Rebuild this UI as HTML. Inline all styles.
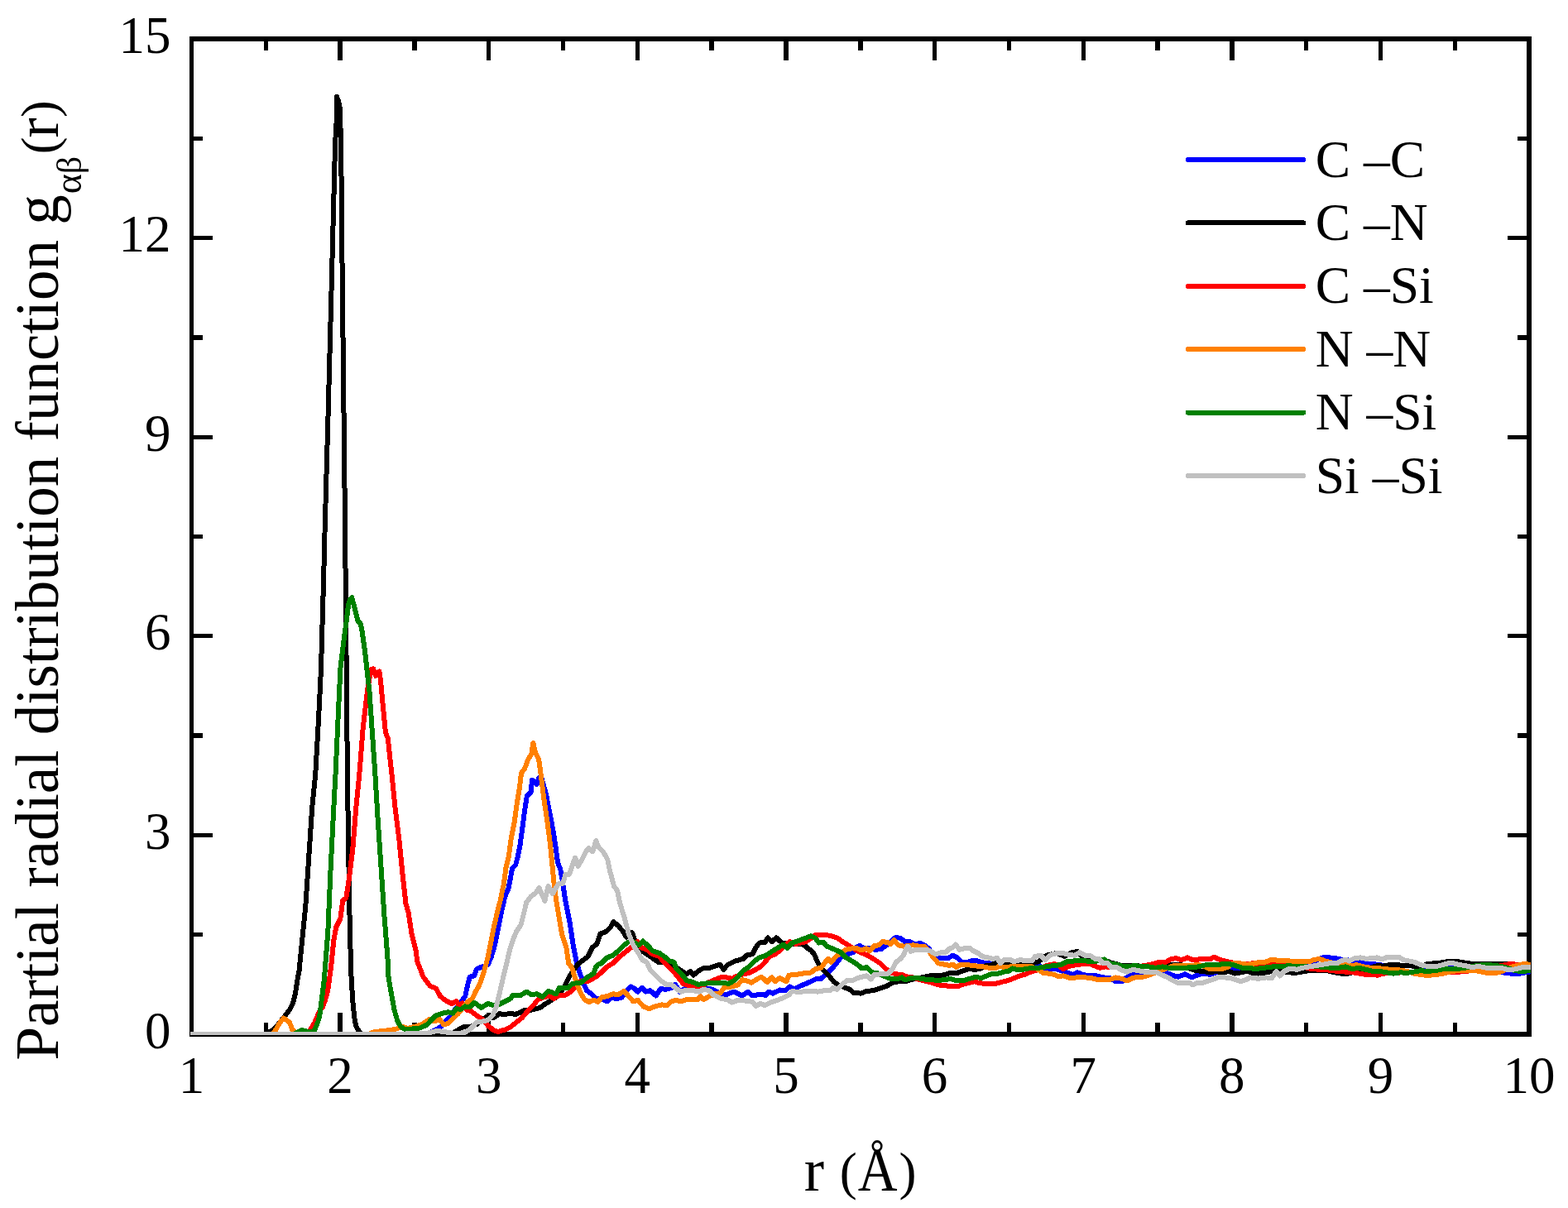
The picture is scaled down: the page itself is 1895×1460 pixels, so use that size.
<!DOCTYPE html>
<html lang="en"><head><meta charset="utf-8"><title>Partial radial distribution function</title>
<style>
html,body{margin:0;padding:0;background:#fff;}
body{width:1895px;height:1460px;overflow:hidden;}
svg{display:block;}
text{font-family:"Liberation Serif","Times New Roman",Times,serif;fill:#000;}
.tk{font-size:63.0px;}
.lg{font-size:63.5px;}
.tt{font-size:73.0px;}
.cv{fill:none;stroke-width:6.0;stroke-linejoin:round;stroke-linecap:butt;}
</style></head><body>
<svg width="1895" height="1460" viewBox="0 0 1895 1460">
<rect x="0" y="0" width="1895" height="1460" fill="#ffffff"/>
<defs><clipPath id="plot"><rect x="230" y="47" width="1620" height="1204"/></clipPath></defs>
<g stroke="#000" stroke-width="5.4" stroke-linecap="butt" fill="none" shape-rendering="crispEdges">
<path d="M321.3 1249.9v-13.8M321.3 47v13.8M411.1 1249.9v-25.8M411.1 47v25.8M500.9 1249.9v-13.8M500.9 47v13.8M590.7 1249.9v-25.8M590.7 47v25.8M680.5 1249.9v-13.8M680.5 47v13.8M770.3 1249.9v-25.8M770.3 47v25.8M860.1 1249.9v-13.8M860.1 47v13.8M949.9 1249.9v-25.8M949.9 47v25.8M1039.8 1249.9v-13.8M1039.8 47v13.8M1129.6 1249.9v-25.8M1129.6 47v25.8M1219.4 1249.9v-13.8M1219.4 47v13.8M1309.2 1249.9v-25.8M1309.2 47v25.8M1399 1249.9v-13.8M1399 47v13.8M1488.8 1249.9v-25.8M1488.8 47v25.8M1578.6 1249.9v-13.8M1578.6 47v13.8M1668.4 1249.9v-25.8M1668.4 47v25.8M1758.2 1249.9v-13.8M1758.2 47v13.8M231.5 1129.6h13.8M1848 1129.6h-13.8M231.5 1009.3h25.8M1848 1009.3h-25.8M231.5 889h13.8M1848 889h-13.8M231.5 768.7h25.8M1848 768.7h-25.8M231.5 648.5h13.8M1848 648.5h-13.8M231.5 528.2h25.8M1848 528.2h-25.8M231.5 407.9h13.8M1848 407.9h-13.8M231.5 287.6h25.8M1848 287.6h-25.8M231.5 167.3h13.8M1848 167.3h-13.8"/>
</g>
<rect x="231.5" y="47" width="1616.5" height="1202.9" fill="none" stroke="#000" stroke-width="5.6" shape-rendering="crispEdges"/>
<g clip-path="url(#plot)" shape-rendering="crispEdges">
<polyline class="cv" stroke="#0000ff" points="230,1250 515,1250 522,1247 528,1244 533.5,1240.5 537.6,1235 543.1,1229.5 550,1220 558.2,1209.6 562.3,1204.1 565.1,1190.4 567.8,1180.7 573.3,1179.4 576,1171.1 582.9,1168.4 589.8,1165.7 593.9,1156 598,1142.3 602.1,1121.7 606.2,1101.2 610.4,1083.3 614.5,1073.7 617.2,1060 619,1049.7 623.1,1045.6 625.9,1034.7 628.6,1020.9 631.4,1000.4 634.1,979.8 636.8,961.9 641.6,957.8 643,942.7 645.8,944.1 648.5,948.2 651.2,940 654,938.2 656.2,946.6 658.4,954 660.3,961.4 661.7,968.8 663.2,976.2 665.4,987.7 667.8,1000.4 671.2,1020.9 673.9,1041.5 677.3,1051.1 679.4,1062.1 683.1,1087.4 688.6,1114.9 692.7,1142.3 696.8,1162.9 700.9,1176.6 705,1187.6 709.1,1197.2 714.6,1201.3 720.1,1206.8 727,1207.5 733.8,1210.5 739.2,1205.4 744.7,1207.5 751.6,1205.4 757,1197.2 762.5,1192.4 766.7,1194.5 770.8,1198.6 776.3,1193.8 780.4,1198.6 785.9,1197.2 792.7,1203.4 798.2,1195.2 805.1,1195.8 811,1194 816,1189.7 821.5,1198.6 827,1195.2 840,1196 857.2,1194.5 864.1,1197.2 870.9,1201.3 877.8,1202 887.4,1198.6 897,1203.4 903.9,1198.6 909.4,1203.4 917.6,1202 925.8,1202.7 928.6,1198.6 934,1200.6 942.3,1196.5 949.1,1197.2 954.6,1192.4 960.1,1195.2 967,1191.7 973.8,1189 980,1186.2 985.5,1183.5 992.3,1182.8 997.8,1178 1003.3,1172.5 1007.4,1168.4 1012.9,1161.5 1017,1156 1023.9,1153.3 1030.8,1151.2 1034.9,1145.1 1039,1143 1044.5,1146.4 1051.4,1146.4 1058.2,1147.8 1065.1,1147.1 1069.2,1143.7 1074.7,1141 1078.8,1135.5 1082.9,1132.7 1088.4,1134.1 1093.9,1138.2 1099.4,1138.2 1106.2,1141.6 1111.7,1139.6 1117.2,1142.3 1122.7,1146.4 1126.8,1153.3 1132.3,1157.4 1139.2,1158.1 1146,1158.1 1151.5,1154.7 1157,1157.4 1162.5,1162.9 1169.4,1162.9 1174.8,1160.9 1181.7,1161.5 1188.6,1163.6 1195.4,1164.3 1203.7,1165.7 1213.3,1167 1227,1167 1240,1167 1246.9,1166.3 1253.7,1165.7 1260.6,1169.8 1267.4,1171.8 1275.7,1171.1 1282.5,1173.2 1289.4,1175.3 1296.3,1178 1302.4,1175.3 1308.6,1178 1316.8,1179.4 1325.1,1179.4 1333.3,1181.4 1341.5,1182.1 1348.4,1186.2 1356.6,1186.2 1360.7,1182.1 1369,1178 1377.2,1178 1385.4,1176.6 1393.7,1175.3 1401.9,1174.6 1410.1,1175.9 1417,1178.7 1423.9,1180.7 1432.1,1177.3 1440.3,1181.4 1448.6,1178 1455.4,1176.6 1462.3,1178 1470.5,1175.3 1477.4,1173.9 1484.2,1171.1 1492.5,1169.8 1500,1171.1 1512,1168.5 1525,1166.5 1538.4,1165 1552.1,1165 1570,1165.5 1585.1,1164.3 1592,1160 1598.8,1157.4 1607,1157.4 1613.9,1158.1 1620.7,1159.5 1630,1160.5 1642.7,1162.9 1650.9,1164.3 1659.2,1165 1664.7,1165.7 1673,1167 1683.9,1169.8 1694,1168 1705.8,1165.7 1720,1168 1733,1169.5 1747,1169.8 1760,1169.8 1775,1171 1790,1172 1805,1173 1820.3,1176 1833.3,1177.5 1840,1176 1852,1174"/>
<polyline class="cv" stroke="#000000" points="230,1250 318,1250 325,1247.5 330.1,1244.7 337.1,1237.1 344.1,1228.1 350.1,1220.1 354.1,1212.1 357.1,1200 360.1,1180 361.2,1176.6 365.2,1136.5 369.2,1096.4 373.2,1036.3 377.2,976.1 381.2,936 385,870 388,808 391.1,700 392.5,644 396.6,500 400.5,352 402.3,280.6 404.3,205 404.9,177 406,158 407,140 407,117 407.9,119 409,122 409.8,126 410.8,131 411.3,150 411.9,165 412.6,220 413.2,290 413.9,352 417.1,644 419.9,936 421.3,1036.3 422.7,1116.5 424.3,1176.6 426.3,1210.1 428.3,1230.1 430.3,1240.2 433.3,1245.7 436,1248.5 438.5,1250 445,1250 545,1250 554.1,1244.5 559.6,1241.5 567.8,1241.1 576,1238 583,1232 589.8,1228 596.6,1230.1 603.5,1225.3 610.4,1226 617.2,1224.7 622.7,1226 629.6,1223.3 635,1220.5 643.3,1220.5 652.9,1217.8 658.4,1213.7 665.2,1209.6 672.1,1205.4 677.6,1200 683.1,1190.4 688.6,1179.4 694,1171.1 699.5,1164.3 705,1160.2 710.5,1156 716,1145.1 721.5,1141 725.6,1128.6 732.5,1125.9 738,1120.4 741.3,1114.2 747.4,1119 752.9,1125.9 757,1132.7 760.5,1131 763.9,1127.2 767.3,1136.8 769.4,1147.8 777.6,1150.6 785.9,1156 795.5,1162.9 805,1163 816,1168.4 824.3,1173.9 829.8,1177.3 834.6,1173.9 838,1178.7 843.5,1173.9 849,1170.5 857.2,1169.8 864.1,1167.7 870.2,1165.7 874.4,1171.8 879.2,1166.3 888.8,1161.5 898.4,1158.8 903.2,1154 909.4,1153.3 913.5,1145.1 917.6,1139.6 924.4,1138.9 927.9,1133.4 932.7,1138.2 938.2,1133.4 945,1139.6 955,1140.5 967,1141 972.5,1142.3 976.6,1146.5 980,1148.5 984.1,1153.3 987.5,1161.5 991,1168.4 996.5,1173.9 1002,1179.4 1007.4,1186.2 1012.9,1190.4 1019.8,1193.1 1026.7,1195.8 1032.1,1200 1040.4,1200.6 1047.2,1197.9 1055.5,1197.2 1063.7,1194.5 1071.9,1191.7 1078.8,1187.6 1087,1186.2 1093.9,1186.2 1105,1183 1117.2,1180.7 1124.1,1179.4 1133.7,1179.4 1141.9,1178 1148.8,1175.9 1157,1175.9 1163.9,1173.2 1170.7,1171.1 1177.6,1171.8 1184.4,1171.1 1191.3,1167 1199.5,1166.3 1203,1163.6 1210.5,1167 1217.4,1165.7 1227,1166.3 1233.8,1166.3 1240,1165.7 1248.2,1164.3 1255.1,1162.2 1264.7,1154.7 1277,1151.9 1286.7,1156 1294.9,1151.2 1302.4,1149.9 1308.6,1157.4 1320,1158.5 1334.7,1160.5 1342.9,1163.6 1356,1167 1377,1167.5 1391,1168.5 1405,1167.5 1415.6,1166.3 1423.9,1165.7 1432,1167 1439,1171.1 1445.8,1173.2 1454,1173.9 1462.3,1175.3 1470.5,1173.9 1477.4,1175.9 1484.2,1173.9 1492.5,1176.6 1500,1175.3 1506.9,1173.9 1513.7,1175.9 1520.6,1176.6 1530.2,1175.3 1538.4,1173.9 1548,1174 1557.6,1175.3 1565.9,1175.9 1576.8,1173.9 1587.8,1172.5 1601.5,1172.5 1612.5,1175.3 1620.7,1176.6 1629,1176.6 1640,1174 1652,1171 1664.7,1167 1671.5,1167.7 1678.4,1166.3 1686.6,1165.7 1694.8,1167 1703.1,1167 1711.3,1168.4 1718,1168 1725,1165 1738.1,1164 1750.1,1162 1761.1,1162 1770.2,1163.5 1780.2,1165 1795.2,1165 1805.3,1165 1815.3,1165 1825,1165.5 1835.3,1166 1852,1167"/>
<polyline class="cv" stroke="#ff0000" points="230,1250 370,1250 374.2,1246 380.2,1236.1 386.2,1222.1 390.2,1216.7 393.2,1208.1 396.3,1196.7 400.3,1166.6 403.3,1136.5 406.3,1120.5 411.3,1110.4 414.3,1088.4 418.3,1085.4 421.3,1066.3 426.3,1026.2 430.3,976.1 434.3,936 438.7,880 441.5,856 444.4,832 447.3,815 448.7,809 451.2,808.3 454,816.9 458.4,811.5 460,822 462,844.5 465.9,884.6 468.8,892.7 473.5,936 477.5,976.1 482.5,1016.2 486.5,1056.3 490.5,1092.4 493.5,1102.4 497.5,1128.5 502.5,1148.6 504.5,1162.6 511.5,1180.6 519.8,1191.7 526.7,1194.5 532.1,1204.1 539,1209.6 545.9,1213 551.4,1210.2 554.8,1215 558.9,1212.3 563.7,1220.5 569.2,1221.9 576,1227.4 584.3,1232.9 589.8,1239.7 596.6,1245.2 602.1,1246.9 610.4,1244.5 617.2,1241.1 624.1,1235.6 630.9,1230.1 637.8,1221.9 644.7,1215 650.1,1208.2 657,1205.4 663.9,1203.4 669.3,1206.8 676.2,1202.7 683.1,1202.7 689.9,1198.6 696.8,1191.7 702.3,1185.5 710.5,1186.2 720,1180.7 726.9,1175.3 733.7,1168.4 740.6,1164.3 747.4,1157.4 754.3,1151.9 761.2,1146.4 766.7,1142.3 770.8,1138.2 774.9,1145.1 781.7,1147.8 788.6,1153.3 796.8,1156 803.7,1164.3 810.6,1171.1 816,1176.6 821.5,1183.5 825.7,1189 833.9,1191.7 840.7,1193.1 850.4,1190.4 857,1187 865.4,1183.5 870.9,1181.4 877.8,1181.4 884.7,1182.8 891,1179.5 898.4,1177.3 905.2,1175.9 912.1,1172.5 919,1168.4 924.4,1162.9 929.9,1156 936.8,1153.3 943.7,1147.8 950.5,1141 954.6,1138.2 961.5,1141 967,1139.6 973.8,1138.2 980,1134.1 985.5,1130 993.7,1130 1003.3,1130.7 1011.6,1133.4 1018.4,1138.2 1025.3,1142.3 1033.5,1147.8 1041.7,1151.9 1048.6,1154.7 1055.5,1158.8 1063.7,1164.3 1069.2,1169.8 1076,1175.3 1082.9,1177.3 1089.8,1178 1096.6,1180.7 1103.5,1181.4 1111.7,1184.2 1120,1186.2 1128.2,1188.3 1133.7,1190.4 1141.9,1191 1148.8,1192.4 1157,1192.4 1163.9,1189.7 1172.1,1187.6 1177.6,1186.2 1184.4,1188.3 1192.7,1189 1202.3,1189 1210.5,1186.9 1218.7,1184.9 1225.6,1182.1 1232.5,1179.4 1240,1177.3 1244.1,1175.3 1251,1173.2 1257.8,1171.1 1264.7,1167 1274.3,1165 1281.2,1168.4 1285.3,1171.1 1292.1,1167.7 1300.4,1166.3 1308.6,1165 1316.8,1165 1323.7,1167.7 1329.2,1169.8 1336,1168.4 1350,1169.5 1365,1169.5 1378,1168 1390.9,1165.7 1400.5,1162.9 1408.8,1162.9 1414.3,1159.5 1421.1,1158.1 1428,1160.2 1434.8,1157.4 1441.7,1160.2 1448.6,1159.5 1456.8,1158.8 1462.3,1159.5 1467.1,1156.7 1473.3,1159.5 1480.1,1161.5 1487,1162.9 1493.8,1164.3 1500,1165.7 1507,1165 1513.7,1164.3 1525,1165.5 1538.4,1165.7 1550,1166.5 1563.1,1167 1574,1168.5 1582,1170.5 1593.3,1171.8 1601.5,1171.8 1609.8,1173.2 1618,1173.9 1626.2,1174.6 1634.5,1175.3 1642.7,1176.6 1650.9,1178 1659.2,1178 1664.7,1178.7 1671.5,1176.6 1685,1176 1700,1175 1715,1175.5 1730,1175.5 1747,1175.3 1753.1,1175.5 1770.2,1174 1785,1172.5 1800,1170 1810,1168 1820.3,1166 1825.3,1165 1835.3,1166 1852,1167"/>
<polyline class="cv" stroke="#ff8000" points="230,1250 328,1250 331.6,1247.5 338.1,1236.1 342.6,1230.5 346,1232.5 350.1,1236.1 353.1,1244.2 357.1,1248 362,1250 445,1250 452.4,1247.2 470.4,1245.2 480.4,1243.2 485.5,1240.5 492.3,1243 500.6,1241 510.2,1238 518.4,1232.2 525.3,1234.3 530.8,1231.5 536.3,1238.4 541.7,1237 548.6,1230.1 554.1,1224.7 559.6,1217.8 565.1,1210.9 570.6,1207.5 574.7,1198.6 578.8,1191.7 582.9,1180.7 587,1167 589.8,1156 592.5,1142.3 596.6,1121.7 600.7,1103.9 604.9,1087.4 607.6,1073.7 608.7,1070 611.5,1048.4 614.9,1034.7 617.6,1014.1 621.7,993.5 624.5,972.9 627.9,952.3 630,934.5 634.1,929 638.2,918 642.3,911.2 644.4,898.1 647.1,909.8 651.2,918 654,938.6 657.4,966 661.5,993.5 665,1020.9 667.7,1048.4 669.8,1070 672.1,1087.4 676.2,1112.1 679,1128.6 684.4,1145.1 687.2,1164.3 691.3,1169.8 695.4,1183.5 700.9,1198.6 706.4,1208.2 711.9,1210.9 717.4,1208.9 722.9,1210.9 726.9,1205.4 733.7,1204.1 740.6,1201.3 747.4,1202 754.3,1197.9 759.8,1204.1 765.3,1210.2 770.8,1208.9 777.6,1216.4 784.5,1219.2 791.4,1216.4 799.6,1214.4 806.4,1215 810.6,1210.9 816,1208.9 822.9,1210.2 829.8,1208.2 838,1207.5 843.5,1208.2 846.2,1204.1 850.4,1208.2 857.2,1204.1 864.1,1201.3 870.9,1200 875,1193.8 884.7,1192.4 891.5,1190.4 897,1184.2 902.5,1185.5 908,1187.6 914.8,1183.5 920.3,1180.7 927.2,1186.9 932.7,1181.4 936.8,1186.2 942.3,1182.1 950.5,1186.2 953.3,1178.7 961.5,1178 969.7,1176.6 980,1175.5 985.5,1171.1 992.3,1169.8 997.8,1162.2 1000.6,1158.8 1004.7,1162.9 1010.2,1156 1015.7,1151.9 1022.5,1147.8 1029.4,1146.4 1034.9,1145.8 1040.4,1148.5 1047.2,1146.4 1051.4,1149.2 1056.8,1143 1062.3,1142.3 1066.4,1138.2 1073.3,1138.9 1076,1141 1080.2,1136.2 1085.7,1142.3 1092.5,1143.7 1098,1143 1103.5,1142.3 1110.4,1143.7 1117.2,1143.7 1122.7,1149.2 1126.8,1156 1130.9,1160.2 1133.7,1164.3 1141.9,1165.7 1147.4,1167 1151.5,1165.7 1155.6,1169.1 1161.1,1165.7 1168,1165.7 1174.8,1167 1181.7,1167.7 1188.6,1168.4 1195.4,1169.8 1202.3,1170.5 1207.8,1167.7 1213.3,1169.1 1221.5,1168.4 1229.7,1168.4 1240,1168.4 1246.9,1168.4 1253.7,1171.1 1260.6,1175.9 1267.4,1176.6 1274.3,1178 1278.4,1180.1 1285.3,1179.4 1293.5,1182.1 1301.7,1181.4 1311.4,1181.4 1319.6,1182.1 1326.4,1184.2 1336,1184.2 1342.9,1183.5 1348.4,1181.4 1355.3,1182.8 1362.1,1185.5 1369,1182.1 1374.5,1180.7 1381.3,1180.7 1388.2,1178.7 1393.7,1176.6 1402,1173.5 1411,1170 1418.4,1167 1432,1167.5 1440,1167 1448.6,1165.7 1455,1168 1462.3,1171.1 1470.5,1170.5 1477.4,1171.1 1484.2,1168.4 1491.1,1164.3 1500,1164.5 1506.9,1165.7 1513.7,1165 1522,1162.9 1528.8,1162.9 1535.7,1160.2 1541.2,1160.2 1546.7,1161.5 1554.9,1160.9 1563.1,1162.2 1571.4,1162.2 1576.8,1161.5 1582.3,1162.2 1587.8,1160.2 1594.7,1158.8 1601.5,1161.5 1612,1164 1623.5,1165.7 1631.7,1167 1640,1166.3 1648.2,1168.4 1656.4,1169.8 1664.7,1169.8 1672.9,1171.1 1682,1171.8 1692.1,1172.5 1700.3,1173.9 1708.6,1176.6 1716.8,1178 1725,1179 1735.1,1178 1745.1,1176.5 1755.1,1174 1765.2,1172.5 1775.2,1173 1785.2,1173.5 1792.2,1175 1800.2,1176.5 1810.3,1175.5 1815.3,1174 1825.3,1169 1835.3,1166.5 1841.4,1165 1852,1166"/>
<polyline class="cv" stroke="#008000" points="230,1250 355,1250 360,1247.5 364.6,1245.2 369,1246 373.2,1247.2 377,1247.5 380.2,1245.2 384.2,1235.1 386.2,1228 387.2,1220.1 389.2,1205.1 390.2,1196.7 391.2,1190 393.2,1166.6 396.3,1126.5 399.3,1056.3 402.3,996.2 405.5,936 408.5,870 411.4,807.7 413.7,788.8 415.5,774 417,762.9 418.5,751.8 420.3,737 421.4,729.6 423.4,724.2 425.1,722.1 427.3,729.6 429.2,737 431,744.4 432.5,750.3 435.5,753.3 437,759.2 438.1,766.6 439.2,774 440.7,785.1 442.1,796.2 443.2,807.7 446.4,834.5 453.4,936 456.4,986.1 460.4,1046.3 464.4,1106.4 468.4,1156.6 469.4,1180 472.4,1198 476.4,1220.1 480.4,1234.1 484.5,1241.2 490.5,1244.5 493.7,1244 507.4,1242.5 515.7,1238.8 521.2,1232.9 526.7,1227.4 534.9,1224.7 541.7,1223.3 547.2,1224.7 551.4,1219.2 556.8,1219.9 562.3,1216.4 567.8,1217.1 573.3,1211.6 581.5,1217.8 589.8,1213 596.6,1215 603.5,1213.7 611.7,1209.6 617.2,1206.8 620,1202.7 628.2,1203.4 636.4,1198.6 641.9,1202 648.8,1201.3 655.6,1204.8 662.5,1197.9 672.1,1201.3 676.2,1193.8 685.8,1194.5 691.3,1189 702.3,1187.6 710.5,1180.7 717.4,1176.6 720,1169 722.9,1165.7 726.9,1164.3 733.7,1157.4 740.6,1154.7 747.4,1149.2 754.3,1142.3 759.8,1138.2 766,1139 772.1,1142.3 776.9,1137.5 783.1,1143 788.6,1149.2 796.8,1151.9 803.7,1156.7 809.2,1161.5 814.7,1162.9 817.4,1171.1 824.3,1178 829.8,1184.9 836.6,1186.9 843.5,1189.7 851.7,1189 857.2,1187.6 865.4,1187.6 873.7,1187.6 880.5,1189 887.4,1184.9 892.9,1179.4 898.4,1173.2 905.2,1168.4 912.1,1161.5 917.6,1157.4 925.8,1154.7 934,1149.2 940.9,1145.1 946.4,1141.6 951.2,1145.8 957.4,1139.6 965.6,1136.8 972.5,1134.1 980,1131.4 985.5,1134.1 989.6,1139.6 995.1,1138.9 999.2,1143.7 1007.4,1147.1 1015.7,1150.6 1022.5,1157.4 1029.4,1161.5 1036.3,1165.7 1041.7,1170.5 1047.2,1169.1 1054.1,1175.3 1062.3,1176.6 1070.6,1180.7 1076,1182.8 1084.3,1183.5 1089.8,1181.4 1093.9,1184.2 1100.7,1182.1 1109,1182.1 1117.2,1183.5 1125.4,1184.2 1133.7,1184.9 1141.9,1184.2 1148.8,1182.8 1157,1185.5 1165.2,1184.9 1172.1,1182.8 1179,1180.7 1185.8,1182.1 1192.7,1179.4 1199.5,1176.6 1206.4,1176.6 1213.3,1174.6 1218.7,1173.9 1223.6,1170.5 1231.1,1172.5 1240,1171.1 1246.9,1169.8 1253.7,1169.8 1260.6,1169.1 1267.4,1167.7 1275.7,1167 1282.5,1165.7 1289.4,1162.2 1297.6,1161.5 1305.9,1160.9 1312.7,1161.5 1320,1162.5 1328,1161 1334.7,1159.5 1341.5,1164.3 1349.8,1165.7 1356.6,1167.7 1363.5,1168.4 1371.7,1167 1380,1168.4 1388.2,1168.4 1396.4,1169.8 1404.7,1168.4 1412.9,1169.8 1422.5,1169.8 1432.1,1169.8 1440.3,1169.1 1448.6,1168.4 1456.8,1166.3 1465,1165.7 1473.3,1165.7 1481.5,1165 1489.7,1165.7 1495.2,1167.7 1500,1169.5 1508,1169.5 1516.5,1171.1 1527.4,1169.8 1538.4,1168.4 1549.4,1168.4 1557.6,1167 1565.9,1168.4 1580,1168.5 1595,1168.5 1609.8,1169.8 1618,1169.8 1626.2,1168.4 1634.5,1171.1 1642.7,1169.8 1650.9,1171.8 1659.2,1173.9 1667.4,1173.9 1675.6,1175.3 1683.9,1176.6 1692.1,1175.3 1700.3,1175.9 1708.6,1174.6 1716.8,1173.2 1725,1173.9 1735.1,1173 1745.1,1171 1753.1,1170.5 1761.1,1171 1772,1169.5 1785,1167 1797.2,1165.5 1805.3,1167 1815.3,1168 1822,1170 1830,1173 1838.3,1174 1852,1173"/>
<polyline class="cv" stroke="#c0c0c0" points="230,1250 480,1250 493.7,1249.3 517,1248.6 528,1245.9 537.6,1247.2 551.4,1249.5 562.3,1247.6 569.2,1243 576,1235.6 584.3,1234.3 589.8,1232.9 595.3,1227.4 599.4,1217.8 603.5,1201.3 607.6,1183.5 611.7,1167 615.8,1149.2 620,1135.5 624.1,1125.9 629.6,1117.6 633.7,1101.2 636.4,1090.2 641.9,1083.3 647.4,1079.2 651.5,1073 658.4,1088.8 662.5,1071 668,1079.9 674.8,1068.2 680.3,1067.6 683.5,1056.6 688.3,1056.6 691.7,1045.6 695.2,1036.7 698.6,1047 704.1,1037.4 708.2,1029.2 711.6,1025 716.4,1029.2 720.3,1016.1 723.3,1023.7 728.8,1029.2 734.3,1038.8 737,1052.5 739.2,1060 742,1071 746.1,1076.5 748.8,1090.2 754.3,1108 759.8,1128.6 765.3,1142.3 770.8,1150.6 776.3,1160.2 781.7,1162.9 785.9,1172.5 792.7,1179.4 798.2,1184.9 805.1,1189.7 811.9,1190.4 818.8,1195.8 822.9,1198.6 829.8,1196.5 838,1197.2 844.9,1198.6 850.4,1195.8 857.2,1197.2 862.7,1202.7 870.9,1206.8 879.2,1208.2 884.7,1211.6 891.5,1208.9 901.1,1209.6 909.4,1210.9 913.5,1215.7 919,1213 924.4,1215 931.3,1211.6 939.5,1208.9 947.8,1205.4 953.3,1202.7 957.4,1197.9 965.6,1199.3 973.8,1197.9 980,1197.5 988.2,1198.6 996.5,1197.2 1003.3,1197.2 1007.4,1193.8 1011.6,1195.8 1017,1190.4 1023.9,1184.9 1030.8,1184.9 1036.3,1182.1 1041.7,1180.7 1047.2,1179.4 1052.7,1183.5 1056.8,1178 1065.1,1177.3 1073.3,1176.6 1078.8,1171.1 1082.9,1162.9 1088.4,1158.8 1092.5,1153.3 1095.3,1146.4 1097.3,1143.7 1100.7,1149.9 1106.2,1147.8 1111.7,1147.8 1118.6,1147.8 1124.1,1149.2 1130.9,1153.3 1137.8,1151.2 1143.3,1150.6 1147.4,1146.4 1151.5,1145.1 1154.9,1141.6 1159.7,1147.8 1165.2,1146.4 1172.1,1145.8 1176.2,1149.2 1181.7,1151.9 1187.2,1156 1194,1157.4 1199.5,1158.8 1205,1158.1 1209.1,1164.3 1213.3,1160.2 1220.1,1159.5 1225.6,1162.2 1232.5,1160.2 1240,1161 1246.9,1161.5 1251,1156 1257.8,1154.7 1263.3,1160.2 1268.8,1154.7 1274.3,1152.6 1283.9,1151.9 1292.1,1154 1299,1154.7 1304.5,1151.2 1311.4,1154.7 1318.2,1155.4 1323.7,1158.8 1327.8,1158.8 1333.3,1164.3 1338.8,1164.3 1342.9,1169.1 1349.8,1169.1 1355.3,1172.5 1362.1,1174.6 1369,1171.8 1375.8,1173.2 1382.7,1174.6 1389.6,1175.3 1396.4,1174.6 1403.3,1178 1410.1,1180.7 1417,1184.9 1423.9,1188.3 1432.1,1188.3 1437.6,1187.6 1441.7,1190.4 1447.2,1187.6 1452.7,1188.3 1458.2,1186.2 1465,1184.2 1473.3,1180.7 1480.1,1181.4 1487,1182.1 1493.8,1184.2 1500,1186.2 1505.5,1184.2 1511,1181.4 1520.6,1182.8 1530.2,1181.4 1537,1182.1 1542.5,1173.9 1546.7,1179.4 1552.1,1173.9 1559,1170.5 1567.2,1171.8 1574.1,1169.8 1582.3,1168.4 1590.6,1167 1598.8,1165.7 1607,1164.3 1615.3,1164.3 1620.7,1161.5 1626.2,1159.5 1630.4,1161.5 1637.2,1158.1 1644.1,1157.4 1650.9,1158.8 1657.8,1158.1 1664.7,1157.4 1670.1,1159.5 1677,1156.7 1683.9,1156.7 1690.7,1156.7 1696.2,1160.2 1703.1,1161.5 1709.9,1162.9 1715.4,1165.5 1722.3,1167.5 1729.1,1167.7 1736,1168 1742.9,1166.3 1749.7,1164.5 1754.1,1163.5 1761.1,1165.5 1770.2,1167 1778.2,1169 1787.2,1168 1795.2,1169.5 1805.3,1169.5 1815.3,1170 1822.3,1172 1830.3,1171.5 1838.3,1169.5 1845.4,1168.5 1852,1168.5"/>
</g>
<text class="tk" text-anchor="end" x="206.6" y="1266.5">0</text>
<text class="tk" text-anchor="end" x="206.6" y="1025.9">3</text>
<text class="tk" text-anchor="end" x="206.6" y="785.3">6</text>
<text class="tk" text-anchor="end" x="206.6" y="544.8">9</text>
<text class="tk" text-anchor="end" x="206.6" y="304.2">12</text>
<text class="tk" text-anchor="end" x="206.6" y="63.6">15</text>
<text class="tk" text-anchor="middle" x="231.5" y="1321.4">1</text>
<text class="tk" text-anchor="middle" x="411.1" y="1321.4">2</text>
<text class="tk" text-anchor="middle" x="590.7" y="1321.4">3</text>
<text class="tk" text-anchor="middle" x="770.3" y="1321.4">4</text>
<text class="tk" text-anchor="middle" x="949.9" y="1321.4">5</text>
<text class="tk" text-anchor="middle" x="1129.6" y="1321.4">6</text>
<text class="tk" text-anchor="middle" x="1309.2" y="1321.4">7</text>
<text class="tk" text-anchor="middle" x="1488.8" y="1321.4">8</text>
<text class="tk" text-anchor="middle" x="1668.4" y="1321.4">9</text>
<text class="tk" text-anchor="middle" x="1848" y="1321.4">10</text>
<text class="tt" x="971.7" y="1439.2">r <tspan x="1014.8" y="1436.6" font-size="63px">(</tspan><tspan x="1036.8" y="1439.2" textLength="47.8" lengthAdjust="spacingAndGlyphs">Å</tspan><tspan x="1086.6" y="1436.6" font-size="63px">)</tspan></text>
<text class="tt" transform="translate(70 1281.5) rotate(-90)" x="0" y="0">Partial radial distribution function g<tspan x="1047.3" y="28.3" font-size="46px">α</tspan><tspan x="1071.2" y="28" font-size="42px">β</tspan><tspan x="1095.3" y="-1.6" font-size="62px">(</tspan><tspan x="1114.8" y="0">r</tspan><tspan x="1139.5" y="-1.6" font-size="62px">)</tspan></text>
<line x1="1435.8" x2="1575.2" y1="193" y2="193" stroke="#0000ff" stroke-width="6.0" stroke-linecap="round" shape-rendering="crispEdges"/>
<text class="lg" x="1589.8" y="213.6">C –C</text>
<line x1="1435.8" x2="1575.2" y1="269.4" y2="269.4" stroke="#000000" stroke-width="6.0" stroke-linecap="round" shape-rendering="crispEdges"/>
<text class="lg" x="1589.8" y="290">C –N</text>
<line x1="1435.8" x2="1575.2" y1="345.8" y2="345.8" stroke="#ff0000" stroke-width="6.0" stroke-linecap="round" shape-rendering="crispEdges"/>
<text class="lg" x="1589.8" y="366.4">C –Si</text>
<line x1="1435.8" x2="1575.2" y1="422.2" y2="422.2" stroke="#ff8000" stroke-width="6.0" stroke-linecap="round" shape-rendering="crispEdges"/>
<text class="lg" x="1589.8" y="442.8">N –N</text>
<line x1="1435.8" x2="1575.2" y1="498.6" y2="498.6" stroke="#008000" stroke-width="6.0" stroke-linecap="round" shape-rendering="crispEdges"/>
<text class="lg" x="1589.8" y="519.2">N –Si</text>
<line x1="1435.8" x2="1575.2" y1="575" y2="575" stroke="#c0c0c0" stroke-width="6.0" stroke-linecap="round" shape-rendering="crispEdges"/>
<text class="lg" x="1589.8" y="595.6">Si –Si</text>
</svg>
</body></html>
